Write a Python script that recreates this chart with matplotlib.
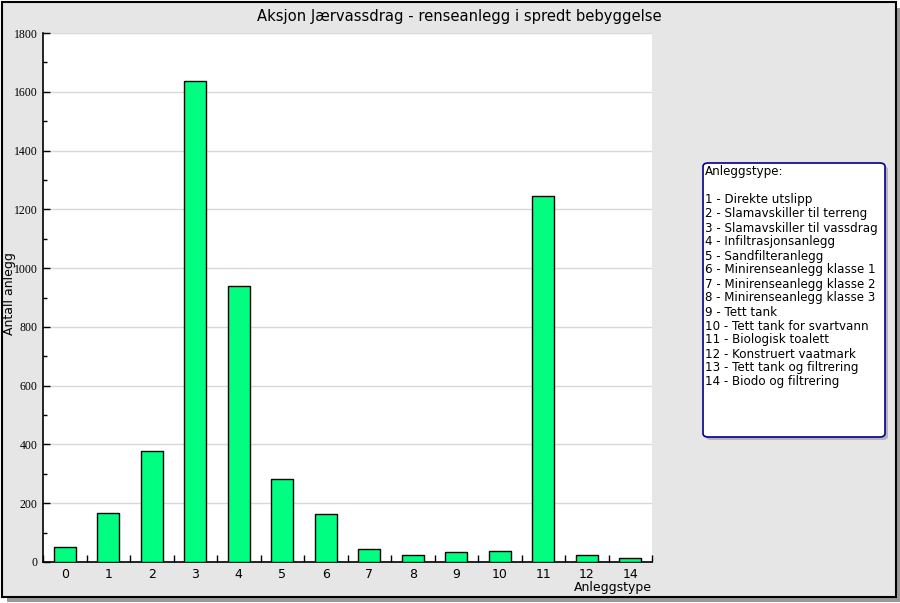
import matplotlib
matplotlib.use("Agg")
import matplotlib.pyplot as plt
from matplotlib.patches import Rectangle, FancyBboxPatch
import numpy as np

title = "Aksjon Jærvassdrag - renseanlegg i spredt bebyggelse"
categories = ["0", "1", "2", "3", "4", "5", "6", "7", "8", "9", "10", "11", "12", "14"]
values = [51, 167, 378, 1637, 939, 282, 163, 44, 23, 34, 37, 1245, 23, 13]
y_ticks = [0, 200, 400, 600, 800, 1000, 1200, 1400, 1600, 1800]
legend_title = "Anleggstype:"
legend_items = [
    "1 - Direkte utslipp",
    "2 - Slamavskiller til terreng",
    "3 - Slamavskiller til vassdrag",
    "4 - Infiltrasjonsanlegg",
    "5 - Sandfilteranlegg",
    "6 - Minirenseanlegg klasse 1",
    "7 - Minirenseanlegg klasse 2",
    "8 - Minirenseanlegg klasse 3",
    "9 - Tett tank",
    "10 - Tett tank for svartvann",
    "11 - Biologisk toalett",
    "12 - Konstruert vaatmark",
    "13 - Tett tank og filtrering",
    "14 - Biodo og filtrering",
]

W, H = 900, 603
fig = plt.figure(figsize=(W / 100, H / 100), dpi=100)
fig.patch.set_facecolor("white")

def fx(px):
    return px / W

def fy(py):
    return 1 - py / H

# outer shadow
fig.patches.append(Rectangle((fx(7), fy(602)), fx(893), (602 - 8) / H,
                             transform=fig.transFigure, facecolor="#9a9a9a",
                             edgecolor="none", zorder=0))
# outer frame
fig.patches.append(Rectangle((fx(2), fy(597)), fx(894), (597 - 2) / H,
                             transform=fig.transFigure, facecolor="#e6e6e6",
                             edgecolor="black", linewidth=1.5, zorder=1))

# legend box shadow + box
lx0, ly0, lx1, ly1 = 703, 163, 885, 437
fig.patches.append(FancyBboxPatch((fx(lx0 + 3), fy(ly1 + 3)), fx(lx1 - lx0), (ly1 - ly0) / H,
                                  boxstyle="round,pad=0,rounding_size=0.006",
                                  transform=fig.transFigure, facecolor="#b4b4b4",
                                  edgecolor="none", zorder=2))
fig.patches.append(FancyBboxPatch((fx(lx0), fy(ly1)), fx(lx1 - lx0), (ly1 - ly0) / H,
                                  boxstyle="round,pad=0,rounding_size=0.006",
                                  transform=fig.transFigure, facecolor="white",
                                  edgecolor="#00008b", linewidth=1.2, zorder=3))

fig.text(fx(705), fy(172), legend_title, fontsize=8.6, va="center", ha="left",
         family="DejaVu Sans", zorder=4)
for i, item in enumerate(legend_items):
    fig.text(fx(705), fy(200 + 14 * i), item, fontsize=8.6, va="center", ha="left",
             family="DejaVu Sans", zorder=4)

ax = fig.add_axes([fx(43), fy(562), fx(652 - 43), (562 - 33) / H], zorder=5)
ax.set_facecolor("white")
x = np.arange(len(categories))
ax.bar(x, values, width=0.5, color="#00ff80", edgecolor="black", linewidth=1, zorder=3)

ax.set_xlim(-0.5, len(categories) - 0.5)
ax.set_ylim(0, 1800)
ax.set_yticks(y_ticks)
ax.set_yticks(np.arange(100, 1800, 200), minor=True)
ax.set_yticklabels([str(v) for v in y_ticks], family="Liberation Serif", fontsize=8.5)
ax.grid(axis="y", which="major", color="#d8d8d8", linewidth=1, zorder=0)
ax.set_xticks(x)
ax.set_xticklabels(categories, fontsize=9, family="DejaVu Sans")
ax.set_xticks(np.arange(-0.5, len(categories), 1.0), minor=True)
ax.tick_params(axis="x", which="major", length=0, pad=4)
ax.tick_params(axis="x", which="minor", direction="in", length=5, width=1)
ax.tick_params(axis="y", which="major", direction="in", length=5, width=1, pad=4)
ax.tick_params(axis="y", which="minor", direction="in", length=3, width=1)
for s in ["top", "right"]:
    ax.spines[s].set_visible(False)
for s in ["left", "bottom"]:
    ax.spines[s].set_linewidth(1.2)

fig.text(fx(459), fy(16), title, fontsize=10.6, ha="center", va="center",
         family="DejaVu Sans", zorder=6)
fig.text(fx(652), fy(587), "Anleggstype", fontsize=9, ha="right", va="center",
         family="DejaVu Sans", zorder=6)
fig.text(fx(10), fy(294), "Antall anlegg", fontsize=9, ha="center", va="center",
         rotation=90, family="DejaVu Sans", zorder=6)

fig.savefig("out.png", dpi=100)
